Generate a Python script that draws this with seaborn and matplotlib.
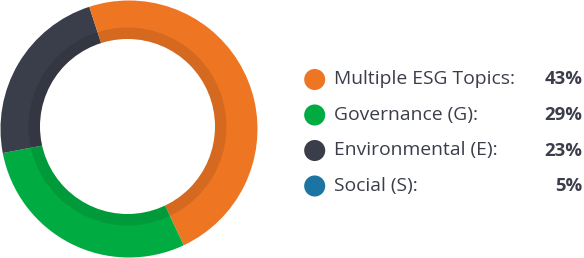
import matplotlib
matplotlib.use("Agg")
import matplotlib.pyplot as plt
import seaborn as sns
import pandas as pd
import numpy as np

categories = ["Multiple ESG Topics:", "Governance (G):", "Environmental (E):", "Social (S):"]
values = [43, 29, 23, 5]
labels_pct = ["43%", "29%", "23%", "5%"]
legend_colors = ["#EE7623", "#00AC42", "#3A3D4A", "#1B74A1"]
# in the ring the Social slice is drawn in the same orange as the first slice
ring_colors = ["#EE7623", "#00AC42", "#3A3D4A", "#EE7623"]

sns.set_theme(style="white")
plt.rcParams['font.family'] = ['Open Sans', 'DejaVu Sans']

W, H = 584, 258
fig = plt.figure(figsize=(W / 100, H / 100), dpi=100)
ax = fig.add_axes([0, 0, 1, 1])

# outer ring
ax.pie(values, colors=ring_colors, startangle=90, counterclock=False,
       radius=128.5, center=(129, H - 129), frame=True,
       wedgeprops=dict(linewidth=0))
# inner darker band (translucent shade on top of the wedges)
ax.add_patch(plt.Circle((127.5, H - 126.5), 99, color="black", alpha=0.1, lw=0, zorder=4))
# white hole
ax.add_patch(plt.Circle((127.5, H - 126.5), 87.5, color="white", lw=0, zorder=5))

# legend
rows_y = [79.5, 115, 150.5, 186]
df = pd.DataFrame({"x": [314.7] * 4, "y": [H - y for y in rows_y], "cat": categories})
sns.scatterplot(data=df, x="x", y="y", hue="cat", palette=legend_colors,
                s=230, linewidth=0, legend=False, ax=ax, zorder=6)
text_color = "#3B3E4A"
for y, lab, pct in zip(rows_y, categories, labels_pct):
    ax.text(334, H - y, lab, fontsize=13.85, color=text_color, va="center", ha="left")
    ax.text(582.5, H - y, pct, fontsize=13.3, color=text_color, va="center", ha="right",
            fontweight="bold")
ax.set_xlabel("")
ax.set_ylabel("")
ax.set_xlim(0, W)
ax.set_ylim(0, H)
ax.set_aspect("equal")
ax.axis("off")

fig.savefig("out.png", dpi=100)
